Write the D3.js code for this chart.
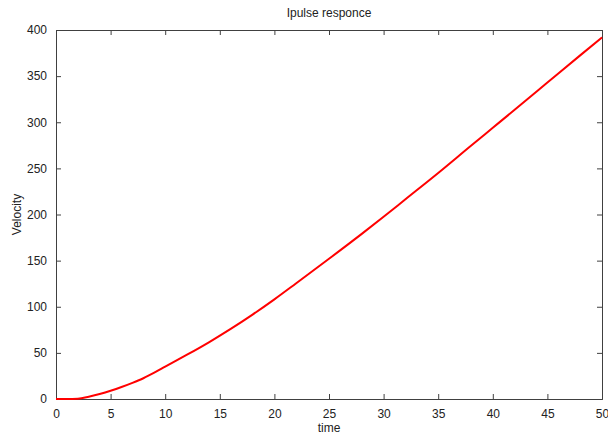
<!DOCTYPE html>
<html>
<head>
<meta charset="utf-8">
<script src="https://cdn.jsdelivr.net/npm/d3@7"></script>
<style>
  html, body { margin: 0; padding: 0; background: #fff; }
  svg { display: block; }
  text { font-family: "Liberation Sans", Arial, sans-serif; fill: #222; }
</style>
</head>
<body>
<svg id="chart" width="608" height="435"></svg>
<script>
// Velocity response over time
const time     = [0, 1, 2, 3, 4, 5, 6, 7, 8, 9, 10, 12, 14, 16, 18, 20, 22, 25, 28, 30, 32, 35, 38, 40, 42, 45, 48, 50];
const velocity = [0, 0, 0.3, 2.5, 5.5, 9, 13, 17.5, 22.5, 28.5, 35, 48, 61.5, 76, 91.5, 108, 125.5, 152, 179, 197.5, 216.5, 245, 274.5, 294, 313.5, 343, 372.5, 392];
const xTicks = [0, 5, 10, 15, 20, 25, 30, 35, 40, 45, 50];
const yTicks = [0, 50, 100, 150, 200, 250, 300, 350, 400];

const svg = d3.select("#chart");
const plotLeft = 56, plotRight = 602, plotTop = 30, plotBottom = 399;

const x = d3.scaleLinear().domain([0, 50]).range([plotLeft, plotRight]);
const y = d3.scaleLinear().domain([0, 400]).range([plotBottom, plotTop]);

const axisColor = "#404040";
const tickLen = 5;

// Bottom axis with labels, inward ticks
const gx = svg.append("g").attr("transform", `translate(0,${plotBottom})`)
  .call(d3.axisBottom(x).tickValues(xTicks).tickSize(-tickLen).tickPadding(tickLen + 5).tickFormat(d3.format("d")));
// Top axis ticks only
const gxt = svg.append("g").attr("transform", `translate(0,${plotTop})`)
  .call(d3.axisTop(x).tickValues(xTicks).tickSize(-tickLen).tickFormat(""));
// Left axis with labels
const gy = svg.append("g").attr("transform", `translate(${plotLeft},0)`)
  .call(d3.axisLeft(y).tickValues(yTicks).tickSize(-tickLen).tickPadding(tickLen + 4).tickFormat(d3.format("d")));
// Right axis ticks only
const gyr = svg.append("g").attr("transform", `translate(${plotRight},0)`)
  .call(d3.axisRight(y).tickValues(yTicks).tickSize(-tickLen).tickFormat(""));

[gx, gxt, gy, gyr].forEach(g => {
  g.select(".domain").attr("stroke", axisColor).attr("stroke-width", 1);
  g.selectAll(".tick line").attr("stroke", axisColor);
  g.selectAll(".tick text").attr("font-size", 12).attr("fill", "#222")
    .attr("font-family", "'Liberation Sans', Arial, sans-serif");
});

// Response curve
const line = d3.line()
  .x((d, i) => x(time[i]))
  .y(d => y(d))
  .curve(d3.curveMonotoneX);

svg.append("path")
  .datum(velocity)
  .attr("fill", "none")
  .attr("stroke", "#ff0000")
  .attr("stroke-width", 2)
  .attr("d", line);

// Titles
svg.append("text")
  .attr("x", (plotLeft + plotRight) / 2).attr("y", 17)
  .attr("text-anchor", "middle").attr("font-size", 12)
  .text("Ipulse responce");

svg.append("text")
  .attr("x", (plotLeft + plotRight) / 2).attr("y", 432)
  .attr("text-anchor", "middle").attr("font-size", 12)
  .text("time");

svg.append("text")
  .attr("transform", `translate(21,${(plotTop + plotBottom) / 2}) rotate(-90)`)
  .attr("text-anchor", "middle").attr("font-size", 12)
  .text("Velocity");
</script>
</body>
</html>
